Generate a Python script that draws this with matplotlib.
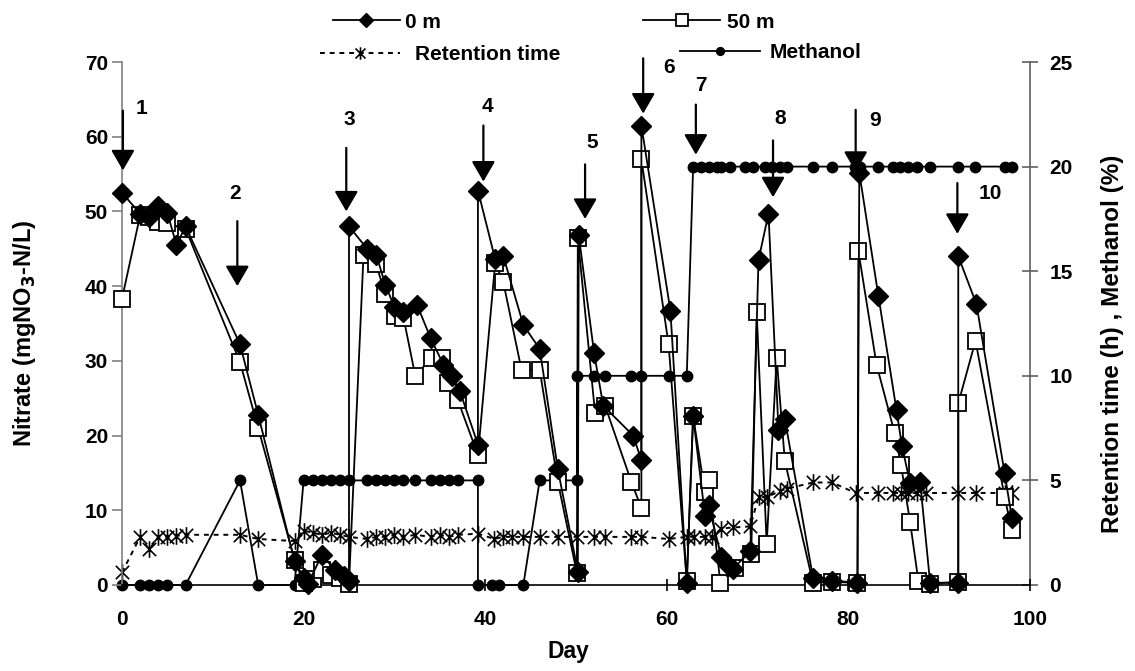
import matplotlib
matplotlib.use("Agg")
import matplotlib.pyplot as plt
from matplotlib.path import Path

plt.rcParams["font.family"] = ["Liberation Sans", "DejaVu Sans"]
plt.rcParams["font.weight"] = "bold"
plt.rcParams["mathtext.default"] = "bf"

# Nitrate at the inlet (0 m)
days_0m = [0, 2, 3, 4, 5, 6, 7, 13, 15, 19, 20, 20.5, 22, 23.5, 24.5, 25,
           25, 27, 28, 29, 30, 31, 32.5, 34, 35.4, 36.3, 37.2, 39.2,
           39.2, 41.1, 42, 44.2, 46, 48, 50.2,
           50.3, 52, 53, 56.3, 57.2,
           57.2, 60.4, 62.2, 62.9, 64.2, 64.6, 66, 66.7, 67.3, 69.2,
           70.1, 71.2, 72.3, 73, 76.1, 78.2, 81,
           81.2, 83.3, 85.3, 85.9, 86.8, 87.9, 89, 92.1,
           92.1, 94.1, 97.2, 98]
nitrate_0m = [52.5, 49.7, 49.3, 50.7, 49.8, 45.5, 48.0, 32.2, 22.8, 3.2, 1.0, 0.2, 4.0, 2.0, 1.2, 0.5,
              48.0, 45.0, 44.2, 40.2, 37.2, 36.5, 37.5, 33.0, 29.5, 28.0, 26.0, 18.8,
              52.8, 43.6, 44.0, 34.8, 31.6, 15.5, 1.8,
              46.8, 31.0, 24.0, 20.0, 16.7,
              61.5, 36.7, 0.3, 22.6, 9.3, 10.7, 3.8, 2.7, 2.2, 4.5,
              43.5, 49.7, 20.8, 22.2, 1.0, 0.6, 0.3,
              55.2, 38.7, 23.4, 18.6, 13.6, 13.8, 0.3, 0.3,
              44.0, 37.6, 15.0, 9.0]

# Nitrate 50 m downstream
days_50m = [0, 2, 3, 4, 5, 7, 13, 15, 19, 20, 21, 22, 23, 24, 25,
            26.6, 28, 29, 30.1, 31, 32.3, 34.1, 35.2, 35.9, 37, 39.2,
            41.1, 42, 44, 46, 48, 50.1,
            50.2, 52.1, 53.2, 56.1, 57.2,
            57.2, 60.2, 62.2, 62.9, 64.2, 64.6, 65.9, 67.5, 69.3,
            69.9, 71, 72.1, 73, 76.1, 78.2, 81,
            81.1, 83.1, 85.1, 85.8, 86.8, 87.7, 89, 92.1,
            92.1, 94, 97.2, 98]
nitrate_50m = [38.3, 49.5, 49.2, 48.6, 48.4, 47.7, 29.8, 21.0, 3.4, 0.3, 0.8, 2.0, 1.3, 1.0, 0.2,
               44.2, 42.9, 38.9, 36.0, 35.8, 28.0, 30.4, 30.4, 27.1, 24.7, 17.4,
               43.1, 40.5, 28.8, 28.8, 13.8, 1.6,
               46.5, 23.0, 24.0, 13.8, 10.3,
               57.0, 32.2, 0.5, 22.6, 12.4, 14.0, 0.3, 2.3, 4.2,
               36.5, 5.5, 30.4, 16.6, 0.3, 0.4, 0.3,
               44.7, 29.5, 20.3, 16.0, 8.4, 0.6, 0.2, 0.4,
               24.3, 32.7, 11.8, 7.3]

# Hydraulic retention time (h)
days_rt = [0, 2, 3, 4, 5, 6, 7, 13, 15, 19, 20, 21, 22, 23, 24, 25,
           27, 28, 29, 30, 31, 32.3, 34, 35, 36, 37, 39.2, 41, 42, 43, 44.2,
           46, 48, 50.1, 52, 53.2, 56.1, 57.2, 60.2, 62.2, 63, 64.2, 65,
           66, 67.3, 69.2, 70.1, 71, 72.5, 73.2, 76.1, 78.2, 80.8, 83.3,
           84.9, 85.8, 86.6, 87.5, 88.5, 92.1, 94, 97.2, 98]
retention = [0.6, 2.3, 1.7, 2.3, 2.3, 2.35, 2.4, 2.4, 2.2, 2.1, 2.6, 2.5, 2.4, 2.5, 2.4, 2.3,
             2.2, 2.3, 2.3, 2.4, 2.3, 2.4, 2.3, 2.4, 2.3, 2.4, 2.45, 2.2, 2.3, 2.3, 2.3,
             2.3, 2.3, 2.3, 2.3, 2.3, 2.3, 2.3, 2.2, 2.3, 2.3, 2.3, 2.3,
             2.7, 2.75, 2.8, 4.2, 4.2, 4.5, 4.6, 4.9, 4.9, 4.4, 4.4,
             4.4, 4.4, 4.4, 4.4, 4.4, 4.4, 4.4, 4.4, 4.4]

# Methanol dosage (%)
days_meoh = [0, 2, 3, 4, 5, 7, 13, 15, 19, 20, 21, 22, 23, 24, 25,
             27, 28, 29, 30, 31, 32.3, 34, 35, 36, 37, 39.2,
             39.2, 40.8, 41.5, 44.2, 46, 48, 50.1,
             50.1, 52, 53.2, 56.1, 57.2, 60.2, 62.2,
             62.9, 63.8, 64.6, 65.5, 66, 67, 68.6, 69.5, 70.8, 71.6, 72.5, 73.2,
             76.1, 78.2, 80.7, 81.3, 83.3, 84.9, 85.7, 86.6, 87.5, 89, 92.1,
             93.9, 97.2, 98]
methanol = [0, 0, 0, 0, 0, 0, 5, 0, 0, 5, 5, 5, 5, 5, 5,
            5, 5, 5, 5, 5, 5, 5, 5, 5, 5, 5,
            0, 0, 0, 0, 5, 5, 5,
            10, 10, 10, 10, 10, 10, 10,
            20, 20, 20, 20, 20, 20, 20, 20, 20, 20, 20, 20,
            20, 20, 20, 20, 20, 20, 20, 20, 20, 20, 20,
            20, 20, 20]

# Substrate additions: label, day, arrow top, arrow tip, label day, label height
add_labels = ["1", "2", "3", "4", "5", "6", "7", "8", "9", "10"]
add_days = [0.1, 12.7, 24.7, 39.8, 51.0, 57.4, 63.2, 71.7, 80.8, 92.0]
add_top = [63.5, 48.7, 58.5, 61.5, 56.3, 70.5, 64.3, 59.5, 63.6, 53.8]
add_tip = [55.5, 40.0, 50.0, 54.0, 49.0, 63.1, 57.6, 51.9, 55.3, 47.0]
add_lab_day = [2.2, 12.5, 25.0, 40.3, 51.8, 60.2, 63.8, 72.5, 82.9, 95.6]
add_lab_y = [63.8, 52.4, 62.3, 64.0, 59.2, 69.3, 66.8, 62.4, 62.2, 52.4]

W, H = 1135, 671
fig = plt.figure(figsize=(W / 100, H / 100), dpi=100)
ax = fig.add_axes([122 / W, 1 - 585 / H, (1030 - 122) / W, (585 - 62) / H])
ax2 = ax.twinx()

# asterisk marker: an X with a vertical bar
star = Path([(-1, -1), (1, 1), (-1, 1), (1, -1), (0, -1.25), (0, 1.25)],
            [Path.MOVETO, Path.LINETO, Path.MOVETO, Path.LINETO, Path.MOVETO, Path.LINETO])

lw = 1.3
h_rt, = ax2.plot(days_rt, retention, color="black", lw=1.4, ls=(0, (2.5, 2.5)),
                 marker=star, ms=12, mew=1.2, mfc="none", mec="black",
                 clip_on=False, zorder=3, label="Retention time")
h_me, = ax2.plot(days_meoh, methanol, color="black", lw=lw, marker="o", ms=7.5,
                 mfc="black", mec="black", clip_on=False, zorder=3, label="Methanol")
h_50, = ax.plot(days_50m, nitrate_50m, color="black", lw=lw, marker="s", ms=11.5,
                mfc="white", mec="black", mew=1.3, clip_on=False, zorder=4, label="50 m")
h_0, = ax.plot(days_0m, nitrate_0m, color="black", lw=lw, marker="D", ms=10,
               mfc="black", mec="black", clip_on=False, zorder=5, label="0 m")

ax.set_zorder(ax2.get_zorder() + 1)
ax.patch.set_visible(False)

for lab, d, top, tip, ld, ly in zip(add_labels, add_days, add_top, add_tip, add_lab_day, add_lab_y):
    ax.annotate("", xy=(d, tip), xytext=(d, top), annotation_clip=False,
                arrowprops=dict(arrowstyle="-|>,head_length=0.62,head_width=0.36",
                                color="black", lw=1.6, mutation_scale=20,
                                shrinkA=0, shrinkB=0), zorder=6)
    ax.text(ld, ly, lab, ha="center", va="center", fontsize=15, fontweight="bold",
            clip_on=False, zorder=6)

ax.set_xlim(0, 100)
ax.set_ylim(0, 70)
ax2.set_ylim(0, 25)
ax.set_xticks(range(0, 101, 20))
ax.set_yticks(range(0, 71, 10))
ax2.set_yticks(range(0, 26, 5))

for a in (ax, ax2):
    a.spines["top"].set_visible(False)
ax.spines["left"].set_color("#808080")
ax.spines["right"].set_visible(False)
ax2.spines["left"].set_visible(False)
ax2.spines["right"].set_color("#606060")
ax2.spines["bottom"].set_visible(False)
ax.spines["bottom"].set_color("black")
for s in ("left", "bottom"):
    ax.spines[s].set_linewidth(1.2)
ax2.spines["right"].set_linewidth(1.2)

ax.tick_params(axis="y", direction="out", length=7, width=1.2, color="#808080",
               labelsize=15, pad=3)
ax.tick_params(axis="x", direction="inout", length=8, width=1.2, labelsize=15, pad=14)
ax2.tick_params(axis="y", direction="inout", length=12, width=1.2, color="#606060",
                labelsize=15, pad=8)

ax.set_xlabel("Day", fontsize=16.5, fontweight="bold")
ax.xaxis.set_label_coords(0.492, -0.106)
ax.set_ylabel("Nitrate (mgNO$_3$-N/L)", fontsize=17, fontweight="bold")
ax.yaxis.set_label_coords(-0.093, 0.482)
ax2.set_ylabel("Retention time (h) , Methanol (%)", fontsize=17.5, fontweight="bold",
               rotation=90)
ax2.yaxis.set_label_coords(1.078, 0.462)

# legend entries, each placed on its own
entries = [(h_0, 333, 22, 3.2, 0.25),
           (h_50, 643, 22, 3.7, 0.35),
           (h_rt, 320, 55, 3.85, 0.7),
           (h_me, 680, 53, 3.85, 0.45)]
for handle, x0, y0, hl, pad in entries:
    leg = fig.legend(handles=[handle], loc="center left",
                     bbox_to_anchor=(x0 / W, 1 - y0 / H), frameon=False, fontsize=15,
                     handlelength=hl, handletextpad=pad, numpoints=1, markerscale=0.75,
                     borderpad=0, borderaxespad=0)

fig.savefig("out.png", dpi=100)
